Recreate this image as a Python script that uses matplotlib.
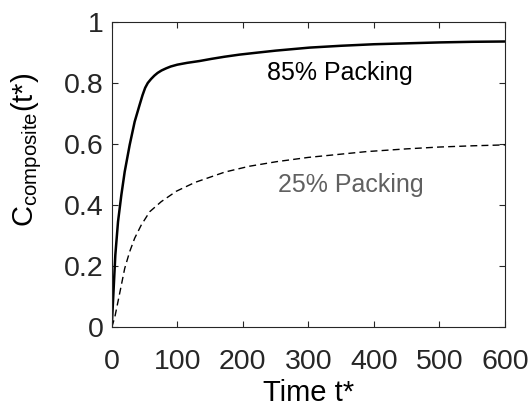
import matplotlib
matplotlib.use("Agg")
import matplotlib.pyplot as plt

plt.rcParams["font.family"] = ["Liberation Sans", "DejaVu Sans"]
plt.rcParams["mathtext.fontset"] = "custom"
plt.rcParams["mathtext.rm"] = "Liberation Sans"
plt.rcParams["mathtext.it"] = "Liberation Sans:italic"

# Composite concentration versus dimensionless time
t_85 = [0, 3, 5.5, 9.6, 14.7, 19.8, 27.4, 35, 42.5, 47, 51, 55, 60, 65, 70, 76,
        83, 90, 100, 115, 134, 152, 172, 195, 220, 250, 302, 350, 400, 450, 500,
        550, 600]
c_85 = [0, 0.128, 0.236, 0.345, 0.433, 0.509, 0.597, 0.673, 0.728, 0.760, 0.784,
        0.800, 0.813, 0.824, 0.833, 0.841, 0.848, 0.854, 0.860, 0.866, 0.872,
        0.879, 0.886, 0.893, 0.899, 0.906, 0.916, 0.922, 0.927, 0.930, 0.933,
        0.935, 0.936]

t_25 = [0, 4.5, 8.5, 13.7, 19.8, 27.4, 35, 45, 58, 75.6, 98.5, 127, 172.7, 210,
        251.5, 300, 388.7, 450, 500, 550, 600]
c_25 = [0, 0.03, 0.072, 0.127, 0.192, 0.247, 0.291, 0.334, 0.378, 0.411, 0.445,
        0.474, 0.508, 0.527, 0.542, 0.556, 0.575, 0.584, 0.590, 0.594, 0.597]

x_ticks = [0, 100, 200, 300, 400, 500, 600]
y_ticks = [0, 0.2, 0.4, 0.6, 0.8, 1]
y_tick_labels = ["0", "0.2", "0.4", "0.6", "0.8", "1"]

label_85 = "85% Packing"
label_25 = "25% Packing"

fig = plt.figure(figsize=(5.31, 4.07), dpi=100)
ax = fig.add_axes([0.2104, 0.1966, 0.951 - 0.2104, 0.946 - 0.1966])

ax.plot(t_85, c_85, color="black", lw=1.8, solid_joinstyle="round")
ax.plot(t_25, c_25, color="black", lw=1.0, dashes=(5, 3))

ax.text(348, 0.833, label_85, fontsize=18, color="black", ha="center", va="center")
ax.text(365, 0.466, label_25, fontsize=18, color="#606060", ha="center", va="center")

ax.set_xlim(0, 600)
ax.set_ylim(0, 1)
ax.set_xticks(x_ticks)
ax.set_yticks(y_ticks)
ax.set_yticklabels(y_tick_labels)

edge = "#262626"
for s in ax.spines.values():
    s.set_color(edge)
    s.set_linewidth(0.8)
ax.tick_params(direction="in", length=4, width=0.8, colors=edge, labelsize=20.5,
               top=True, right=True, labelcolor=edge)
ax.tick_params(axis="x", pad=15.5)
ax.tick_params(axis="y", pad=6)

ax.set_xlabel("Time t*", fontsize=21, color="black", labelpad=3)
ax.set_ylabel(r"C$_{\mathrm{composite}}$(t*)", fontsize=21, color="black")
ax.yaxis.set_label_coords(-0.172, 0.58)

fig.savefig("out.png", dpi=100)
